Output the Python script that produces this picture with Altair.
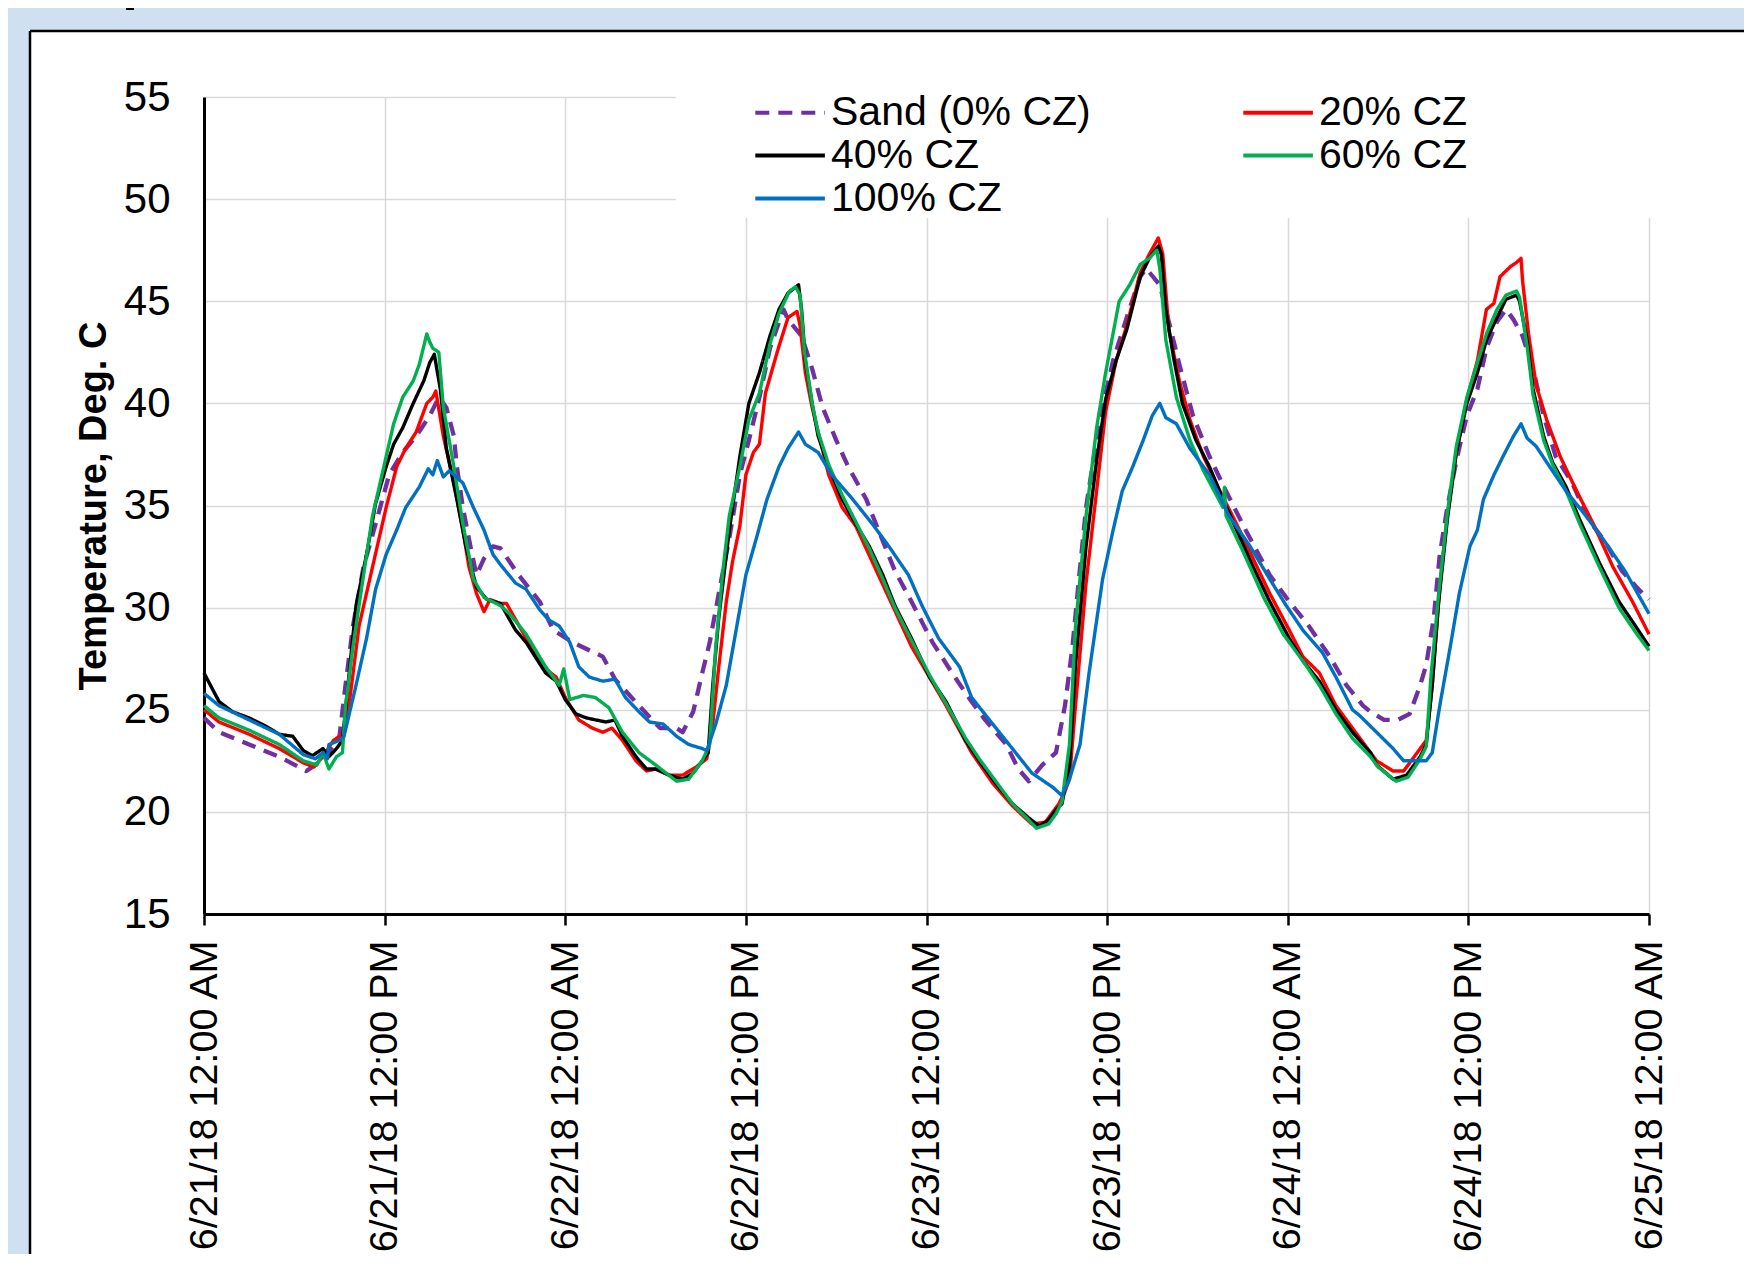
import altair as alt
import pandas as pd

# ---------------- data (hours since 6/21/18 12:00 AM, temperature deg C) ----------------
series_names = ["Sand (0% CZ)", "20% CZ", "40% CZ", "60% CZ", "100% CZ"]
series_colors = ["#7030a0", "#ff0000", "#000000", "#00b050", "#0070c0"]
series_dash = [[14, 9], [1, 0], [1, 0], [1, 0], [1, 0]]
series_width = [4.3, 3.4, 3.4, 3.4, 3.4]
# legend is filled column by column: this order gives rows (Sand, 20%), (40%, 60%), (100%)
legend_order = ["Sand (0% CZ)", "40% CZ", "100% CZ", "20% CZ", "60% CZ"]

sand_h = [0, 1, 3, 5, 6.8, 7.2, 8.1, 9.0, 9.4, 9.9, 10.6, 11.4, 12.3, 13.2, 14.1, 15.0, 15.6, 16.1, 16.6, 16.8,
          17.2, 17.7, 18.1, 18.6, 19.2, 19.7, 20.9, 22.3, 23.2, 24.5, 26.5, 27.3, 28.9, 30.3, 31.4, 31.8, 32.5,
          33.1, 33.6, 34.2, 34.9, 35.6, 36.2, 36.9, 37.6, 38.5, 38.8, 39.7, 40.4, 41.1, 42.0, 42.8, 44.0, 44.8,
          45.9, 47.0, 48.4, 49.7, 50.8, 51.9, 53.3, 54.1, 54.8, 55.7, 56.6, 57.2, 57.7, 58.1, 58.6, 59.5, 60.4,
          61.3, 62.2, 62.6, 63.5, 64.1, 64.8, 65.7, 66.8, 67.9, 69.2, 70.8, 72.1, 73.4, 74.8, 75.9, 77.0, 77.5,
          78.4, 79.3, 80.1, 80.8, 81.2, 81.7, 82.1, 82.6, 83.2, 83.9, 84.6, 85.2, 85.9, 86.5, 87.0, 87.6, 88.3,
          89.0, 89.8, 90.9, 92.0, 93.1, 94.2, 95.3, 96.0]
sand_t = [24.6, 23.9, 23.3, 22.7, 22.0, 22.2, 22.7, 23.7, 26.2, 29.1, 32.0, 34.1, 36.5, 37.6, 38.4, 39.4, 40.3,
          39.8, 38.4, 36.9, 34.9, 33.0, 31.6, 32.4, 33.0, 32.9, 31.6, 30.3, 28.9, 28.3, 27.6, 26.5, 25.2, 24.1,
          24.1, 23.9, 24.9, 26.8, 28.3, 30.7, 33.4, 36.5, 38.2, 40.3, 42.7, 44.6, 44.1, 43.3, 41.7, 39.8, 38.2,
          36.9, 35.3, 33.8, 31.8, 30.3, 28.3, 26.8, 25.6, 24.5, 23.3, 22.1, 21.5, 22.3, 22.9, 25.2, 28.1, 31.2,
          34.9, 39.2, 42.1, 44.2, 46.2, 46.6, 45.8, 44.0, 41.9, 39.4, 37.4, 35.7, 33.8, 31.6, 30.3, 29.1, 27.6,
          26.2, 25.2, 24.9, 24.5, 24.5, 24.8, 26.2, 27.2, 29.5, 32.6, 34.9, 37.2, 39.4, 40.7, 42.7, 44.0, 44.6,
          44.1, 43.3, 41.7, 39.4, 37.4, 36.1, 34.3, 33.2, 31.8, 30.9, 30.4]

red_h = [0, 1, 3, 5, 6.6, 7.3, 7.9, 8.6, 9.2, 9.7, 10.3, 11.2, 12.1, 12.8, 13.4, 14.1, 14.8, 15.2, 15.4, 15.9,
         16.6, 17.2, 17.6, 18.1, 18.6, 19.0, 19.7, 20.1, 21.4, 22.7, 23.4, 24.0, 24.9, 25.8, 26.5, 27.1, 27.8,
         28.7, 29.4, 30.0, 30.9, 31.8, 32.7, 33.4, 33.8, 34.2, 34.7, 35.1, 35.6, 36.0, 36.5, 36.9, 37.3, 38.0,
         38.2, 38.8, 39.4, 39.6, 39.95, 40.4, 41.5, 42.4, 43.3, 44.8, 47.0, 49.3, 51.0, 52.4, 53.7, 55.0, 55.9,
         56.8, 57.2, 57.5, 57.9, 58.6, 59.3, 59.9, 60.6, 61.3, 62.2, 62.8, 63.4, 63.7, 64.1, 64.8, 65.5, 66.4,
         67.5, 68.6, 69.7, 70.8, 72.1, 73.0, 74.1, 75.2, 76.3, 76.8, 77.9, 79.0, 79.7, 80.6, 81.2, 81.6, 82.1,
         82.6, 83.2, 83.9, 84.6, 85.2, 85.7, 86.1, 86.8, 87.2, 87.5, 87.6, 88.0, 88.5, 89.2, 90.1, 91.2, 92.3,
         93.6, 94.9, 96.0]
red_t = [25.0, 24.4, 23.8, 23.1, 22.4, 22.2, 22.7, 23.5, 23.8, 25.6, 29.1, 32.0, 34.9, 36.9, 37.8, 38.6, 40.0,
         40.3, 40.6, 38.4, 36.1, 33.8, 32.0, 30.7, 29.8, 30.4, 30.2, 30.2, 28.5, 27.0, 26.6, 25.6, 24.5, 24.1,
         23.9, 24.1, 23.5, 22.5, 22.0, 22.1, 21.8, 21.8, 22.2, 22.6, 24.3, 27.1, 30.3, 32.2, 34.0, 36.5, 37.6,
         38.0, 40.5, 42.3, 42.8, 44.2, 44.5, 43.8, 41.5, 39.8, 36.5, 34.9, 34.0, 31.6, 28.1, 25.2, 22.9, 21.4,
         20.3, 19.4, 19.5, 20.4, 21.0, 21.6, 25.2, 31.2, 35.7, 39.6, 42.1, 43.8, 46.4, 47.3, 48.1, 47.3, 43.6,
         41.1, 39.2, 37.4, 35.7, 34.1, 32.4, 30.7, 28.9, 27.6, 26.8, 25.2, 24.1, 23.6, 22.5, 22.0, 22.0, 22.9,
         23.5, 26.2, 31.0, 34.5, 37.6, 40.2, 42.1, 44.6, 44.9, 46.2, 46.7, 46.9, 47.1, 46.0, 43.4, 40.9, 39.2,
         37.4, 35.7, 34.1, 32.0, 30.3, 28.7]

black_h = [0, 1, 1.9, 3, 4.1, 5, 5.9, 6.6, 7.2, 7.9, 8.3, 8.8, 9.2, 9.7, 10.1, 10.8, 11.4, 12.1, 12.6, 13.2,
           13.9, 14.6, 15.0, 15.3, 15.7, 16.1, 16.8, 17.4, 18.1, 18.8, 19.7, 20.7, 21.4, 22.0, 22.7, 23.4, 24.0,
           24.7, 25.4, 26.7, 27.3, 27.8, 28.7, 29.4, 30.0, 30.9, 31.8, 32.5, 33.1, 33.5, 33.8, 34.2, 34.9, 35.6,
           36.2, 36.9, 37.6, 38.2, 38.8, 39.5, 39.7, 39.95, 40.4, 40.8, 41.5, 42.4, 43.3, 44.2, 45.1, 45.9, 47.0,
           48.2, 49.3, 50.6, 51.5, 52.6, 53.7, 54.8, 55.5, 56.1, 56.6, 57.0, 57.5, 57.9, 58.6, 59.3, 59.9, 60.6,
           61.3, 62.2, 62.8, 63.4, 63.6, 63.9, 64.4, 65.0, 65.9, 66.8, 67.7, 68.6, 69.7, 70.8, 72.1, 73.0, 74.1,
           75.2, 76.3, 77.5, 77.9, 79.0, 79.9, 80.8, 81.2, 81.6, 82.0, 82.6, 83.2, 83.9, 84.6, 85.2, 85.9, 86.5,
           87.2, 87.4, 87.9, 88.3, 89.0, 89.6, 90.5, 91.4, 92.7, 94.0, 95.1, 96.0]
black_t = [26.8, 25.4, 24.9, 24.6, 24.2, 23.8, 23.7, 23.0, 22.75, 23.1, 22.7, 23.1, 23.5, 27.2, 30.1, 32.6,
           35.1, 36.9, 38.0, 38.8, 40.0, 41.1, 42.0, 42.4, 40.7, 37.8, 35.3, 33.0, 31.0, 30.4, 30.2, 28.9, 28.3,
           27.6, 26.8, 26.4, 25.5, 24.8, 24.6, 24.4, 24.5, 23.7, 22.7, 22.1, 22.1, 21.8, 21.6, 21.9, 22.5, 22.9,
           26.2, 29.5, 33.8, 37.4, 40.0, 41.5, 43.3, 44.6, 45.4, 45.8, 44.6, 42.1, 40.0, 38.4, 36.9, 35.3, 34.1,
           33.0, 31.6, 30.1, 28.5, 26.6, 25.4, 23.5, 22.5, 21.4, 20.4, 19.7, 19.3, 19.6, 20.1, 20.4, 22.3, 27.2,
           33.0, 37.2, 40.2, 42.1, 43.6, 46.2, 47.1, 47.7, 47.3, 44.6, 42.3, 40.0, 38.2, 36.9, 35.3, 33.8, 32.0,
           30.3, 28.5, 27.4, 26.4, 25.0, 23.9, 22.9, 22.3, 21.6, 21.8, 22.7, 23.3, 26.2, 30.1, 34.3, 37.6, 40.0,
           41.5, 43.1, 44.2, 45.1, 45.3, 45.0, 43.1, 40.7, 38.4, 37.1, 35.9, 34.3, 32.2, 30.3, 29.1, 28.1]

green_h = [0, 1, 3, 5, 6.6, 7.5, 7.9, 8.3, 8.8, 9.2, 9.4, 9.9, 10.6, 11.2, 12.6, 13.2, 13.9, 14.3, 14.8, 15.0,
           15.2, 15.6, 15.9, 16.6, 17.2, 17.9, 18.6, 19.7, 20.3, 21.4, 22.7, 23.6, 23.9, 24.3, 25.2, 26.0, 26.9,
           27.8, 28.9, 30.0, 31.4, 32.2, 33.1, 33.6, 34.0, 34.5, 34.9, 35.6, 36.2, 36.9, 37.6, 38.2, 38.9, 39.3,
           39.6, 39.9, 40.4, 40.8, 41.5, 42.4, 43.3, 44.2, 45.1, 45.9, 47.0, 48.2, 49.3, 50.6, 51.5, 52.6, 53.7,
           54.8, 55.3, 56.1, 56.6, 57.0, 57.5, 57.9, 58.6, 59.3, 59.9, 60.8, 61.5, 62.2, 62.8, 63.3, 63.5, 63.9,
           64.6, 65.5, 66.4, 67.7, 67.8, 67.9, 69.0, 70.4, 71.7, 73.0, 74.1, 75.2, 76.3, 77.5, 78.0, 79.2, 80.0,
           80.8, 81.2, 81.5, 82.0, 82.6, 83.2, 83.9, 84.6, 85.2, 85.9, 86.5, 87.2, 87.4, 87.9, 88.3, 89.0, 89.6,
           90.5, 91.4, 92.7, 94.0, 95.1, 96.0]
green_t = [25.2, 24.6, 24.0, 23.3, 22.5, 22.3, 22.9, 22.1, 22.7, 22.9, 25.2, 28.1, 31.6, 34.5, 39.0, 40.3, 41.1,
           41.9, 43.4, 43.0, 42.7, 42.5, 39.8, 36.9, 34.1, 31.4, 30.5, 30.1, 29.7, 28.7, 27.1, 26.2, 27.0, 25.5,
           25.7, 25.6, 25.1, 23.9, 22.9, 22.3, 21.5, 21.6, 22.5, 23.3, 28.1, 32.0, 34.5, 36.9, 39.2, 40.5, 42.9,
           44.4, 45.5, 45.7, 45.3, 42.5, 40.0, 38.6, 37.0, 35.5, 34.2, 32.9, 31.4, 30.0, 28.4, 26.7, 25.3, 23.6,
           22.6, 21.5, 20.4, 19.6, 19.2, 19.4, 19.9, 20.5, 23.3, 29.1, 34.5, 38.8, 41.5, 45.0, 45.8, 46.8, 47.1,
           47.5, 46.6, 43.1, 40.3, 38.2, 36.7, 34.9, 35.9, 34.5, 32.8, 30.5, 28.7, 27.4, 26.2, 24.8, 23.6, 22.7,
           22.2, 21.5, 21.7, 22.6, 23.2, 26.5, 30.5, 34.6, 37.9, 40.3, 42.0, 43.4, 44.6, 45.3, 45.5, 45.2, 42.8,
           40.4, 38.2, 37.0, 35.7, 34.1, 32.0, 30.0, 28.8, 27.9]

blue_h = [0, 1, 3, 5, 6.6, 7.4, 7.9, 8.2, 8.3, 9.0, 9.3, 10.1, 10.8, 11.4, 12.1, 12.8, 13.4, 14.3, 14.9, 15.2,
          15.5, 15.9, 16.3, 17.2, 17.9, 18.6, 19.2, 19.7, 20.7, 21.4, 22.3, 22.9, 23.6, 24.3, 24.9, 25.6, 26.5,
          27.3, 28.0, 28.9, 29.6, 30.5, 31.4, 32.2, 33.1, 33.4, 34.0, 34.7, 35.4, 36.0, 36.7, 37.4, 38.2, 38.8,
          39.5, 39.95, 40.8, 41.7, 43.1, 44.4, 45.5, 46.8, 47.7, 48.8, 50.2, 51.0, 52.4, 53.7, 55.0, 56.4, 57.0,
          57.5, 58.2, 58.8, 59.7, 60.4, 61.0, 61.7, 62.4, 63.0, 63.5, 63.9, 64.6, 65.5, 66.8, 68.1, 69.5, 70.8,
          71.9, 73.0, 74.3, 75.2, 76.3, 76.8, 77.9, 79.0, 79.7, 81.2, 81.6, 82.1, 82.8, 83.4, 84.1, 84.6, 85.0,
          85.7, 86.3, 87.0, 87.5, 87.9, 88.5, 89.4, 90.5, 91.8, 93.1, 94.4, 96.0]
blue_t = [25.8, 25.2, 24.5, 23.8, 22.8, 22.6, 22.9, 22.6, 23.3, 23.5, 23.7, 26.2, 28.5, 30.9, 32.6, 33.8, 34.9,
          35.9, 36.8, 36.5, 37.2, 36.4, 36.7, 36.1, 34.9, 33.8, 32.6, 32.1, 31.2, 30.9, 29.9, 29.4, 29.1, 28.3,
          27.1, 26.6, 26.4, 26.5, 25.6, 24.9, 24.4, 24.3, 23.7, 23.3, 23.1, 23.0, 24.3, 26.2, 29.1, 31.6, 33.4,
          35.3, 36.9, 37.8, 38.6, 38.0, 37.6, 36.5, 35.3, 34.1, 33.0, 31.6, 30.1, 28.5, 27.1, 25.6, 24.3, 23.1,
          21.9, 21.2, 20.8, 21.6, 23.3, 26.8, 31.4, 33.8, 35.7, 36.9, 38.2, 39.4, 40.0, 39.3, 39.0, 37.8, 36.5,
          34.5, 33.0, 31.4, 30.1, 28.9, 27.8, 26.6, 25.0, 24.7, 23.9, 23.1, 22.5, 22.5, 22.9, 25.2, 28.1, 30.7,
          33.0, 33.8, 35.3, 36.5, 37.4, 38.4, 39.0, 38.3, 37.9, 36.9, 35.7, 34.5, 33.2, 31.8, 29.7]

x_tick_hours = [0, 12, 24, 36, 48, 60, 72, 84, 96]
x_tick_labels = ["6/21/18 12:00 AM", "6/21/18 12:00 PM", "6/22/18 12:00 AM", "6/22/18 12:00 PM",
                 "6/23/18 12:00 AM", "6/23/18 12:00 PM", "6/24/18 12:00 AM", "6/24/18 12:00 PM",
                 "6/25/18 12:00 AM"]
y_ticks = [15, 20, 25, 30, 35, 40, 45, 50, 55]

# ---------------- build table ----------------
hours = [sand_h, red_h, black_h, green_h, blue_h]
temps = [sand_t, red_t, black_t, green_t, blue_t]
rows = []
for name, hs, ts in zip(series_names, hours, temps):
    for h, t in zip(hs, ts):
        rows.append({"hour": h, "temp": t, "series": name})
df = pd.DataFrame(rows)

color_of = dict(zip(series_names, series_colors))
dash_of = dict(zip(series_names, series_dash))

FONT = "Liberation Sans"
PW, PH = 1445, 817

label_expr = "[" + ",".join("'" + s + "'" for s in x_tick_labels) + "][round(datum.value / 12)]"

legend = alt.Legend(
    title=None, orient="none", legendX=586, legendY=-5, columns=2, columnPadding=144,
    rowPadding=1, padding=0, symbolType="M-4.6,0H1.2", symbolSize=576, symbolStrokeWidth=4,
    labelFont=FONT, labelFontSize=41, labelColor="black", labelOffset=0, labelLimit=800,
)

color = alt.Color("series:N",
                  scale=alt.Scale(domain=legend_order, range=[color_of[s] for s in legend_order]),
                  legend=legend)
dash = alt.StrokeDash("series:N",
                      scale=alt.Scale(domain=legend_order, range=[dash_of[s] for s in legend_order]),
                      legend=legend)

x_enc = alt.X(
    "hour:Q",
    scale=alt.Scale(domain=[0, 96], nice=False, zero=False),
    axis=alt.Axis(
        values=x_tick_hours, labelExpr=label_expr, labelAngle=-90, labelAlign="right",
        labelBaseline="middle", labelFont=FONT, labelFontSize=39.5, labelColor="black",
        labelPadding=15, labelLimit=1000, tickSize=11, tickWidth=2.5, tickColor="black",
        domainColor="black", domainWidth=3, gridColor="#d9d9d9", gridWidth=1.5, title=None,
        labelOverlap=False, labelFlush=False,
    ),
)
y_enc = alt.Y(
    "temp:Q",
    scale=alt.Scale(domain=[15, 55], nice=False, zero=False),
    axis=alt.Axis(
        values=y_ticks, ticks=False, labelFont=FONT, labelFontSize=42, labelColor="black",
        labelPadding=34, domainColor="black", domainWidth=3, gridColor="#d9d9d9", gridWidth=1.5,
        title="Temperature, Deg. C", titleFont=FONT, titleFontSize=38, titleFontWeight="bold",
        titleColor="black", titlePadding=10,
    ),
)

one = pd.DataFrame({"d": [0]})
BLUE_BG = "#cfe0f1"

def deco_rect(x, x2, y, y2, fill):
    return alt.Chart(one).mark_rect(color=fill, strokeWidth=0).encode(
        x=alt.value(x), x2=alt.value(x2), y=alt.value(y), y2=alt.value(y2))

def deco_rule(x, x2, y, y2):
    return alt.Chart(one).mark_rule(color="black", strokeWidth=2.5).encode(
        x=alt.value(x), x2=alt.value(x2), y=alt.value(y), y2=alt.value(y2))

layers = [
    deco_rect(-200, 1600, -100, -66, BLUE_BG),
    deco_rect(-200, -174, -100, 1300, BLUE_BG),
    deco_rect(-78, -70, -100, -87, "black"),
    deco_rule(-174, -174, -66, 1300),
    deco_rule(-174, 1600, -66, -66),
    deco_rect(472, 1452, -12, 121, "white"),
]

for name, w in zip(series_names, series_width):
    layers.append(
        alt.Chart(df).transform_filter(alt.datum.series == name)
        .mark_line(strokeWidth=w, strokeJoin="round")
        .encode(x=x_enc, y=y_enc, color=color, strokeDash=dash, order="hour:Q")
    )

chart = (
    alt.layer(*layers)
    .properties(
        width=PW, height=PH,
        autosize=alt.AutoSizeParams(type="none"),
        padding={"left": 196, "top": 89, "right": 95, "bottom": 340},
        background="white",
    )
    .configure_view(strokeWidth=0)
)

chart.save("out.html", embed_options={"renderer": "svg", "actions": False})
